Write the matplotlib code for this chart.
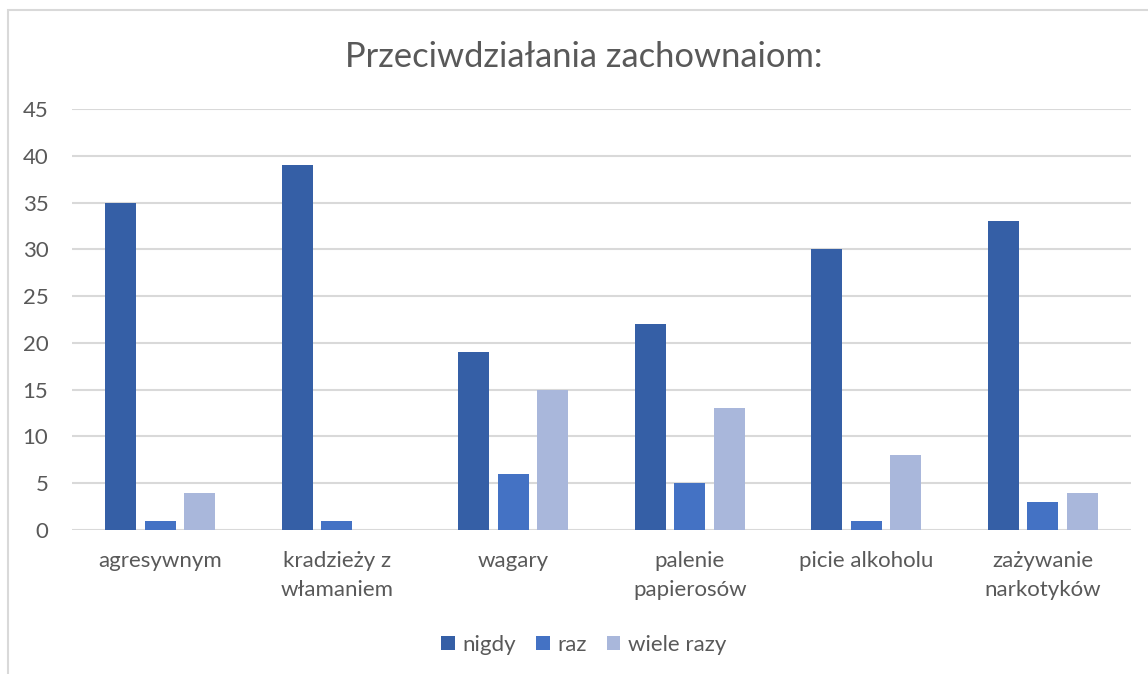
import matplotlib.pyplot as plt
import matplotlib.patches as patches
import numpy as np

# dane z wykresu
categories = ["agresywnym", "kradzieży z\nwłamaniem", "wagary", "palenie\npapierosów",
              "picie alkoholu", "zażywanie\nnarkotyków"]
series_names = ["nigdy", "raz", "wiele razy"]
nigdy = [35, 39, 19, 22, 30, 33]
raz = [1, 1, 6, 5, 1, 3]
wiele_razy = [4, 0, 15, 13, 8, 4]

colors = ["#355FA6", "#4472C4", "#A9B7DB"]
text_color = "#595959"
grid_color = "#D9D9D9"

plt.rcParams['font.family'] = ['Lato', 'DejaVu Sans']

fig = plt.figure(figsize=(11.48, 6.74), dpi=100)
ax = fig.add_axes([72 / 1148, 1 - 530 / 674, (1131 - 72) / 1148, (530 - 109) / 674])

x = np.arange(len(categories))
width = 0.176
step = 0.224
for i, (vals, name) in enumerate(zip([nigdy, raz, wiele_razy], series_names)):
    ax.bar(x + (i - 1) * step, vals, width, color=colors[i], label=name, zorder=3)

ax.set_xlim(-0.5, len(categories) - 0.5)
ax.set_ylim(0, 45)
ax.set_yticks(range(0, 46, 5))
ax.set_xticks(x)
ax.set_xticklabels(categories, fontsize=16, color=text_color, linespacing=1.55)
ax.tick_params(axis='y', labelsize=16, labelcolor=text_color, length=0, pad=17)
ax.tick_params(axis='x', length=0, pad=15)

ax.grid(axis='y', color=grid_color, linewidth=1.5, zorder=0)
for s in ax.spines.values():
    s.set_visible(False)

fig.text(584 / 1148, 1 - 57 / 674, "Przeciwdziałania zachownaiom:", ha='center', va='center',
         fontsize=24.8, color=text_color)

leg = fig.legend(loc='center', bbox_to_anchor=(584 / 1148, 1 - 645 / 674), ncol=3, frameon=False,
                 fontsize=16, handlelength=0.6, handleheight=0.6, handletextpad=0.36,
                 columnspacing=0.9)
for t in leg.get_texts():
    t.set_color(text_color)

# ramka wykresu
fig.patches.append(patches.Rectangle((7.5 / 1148, -0.1), 1.2, 1.1 - 10 / 674,
                                     transform=fig.transFigure, fill=False,
                                     edgecolor=grid_color, linewidth=1.5))

fig.savefig("out.png", dpi=100)
